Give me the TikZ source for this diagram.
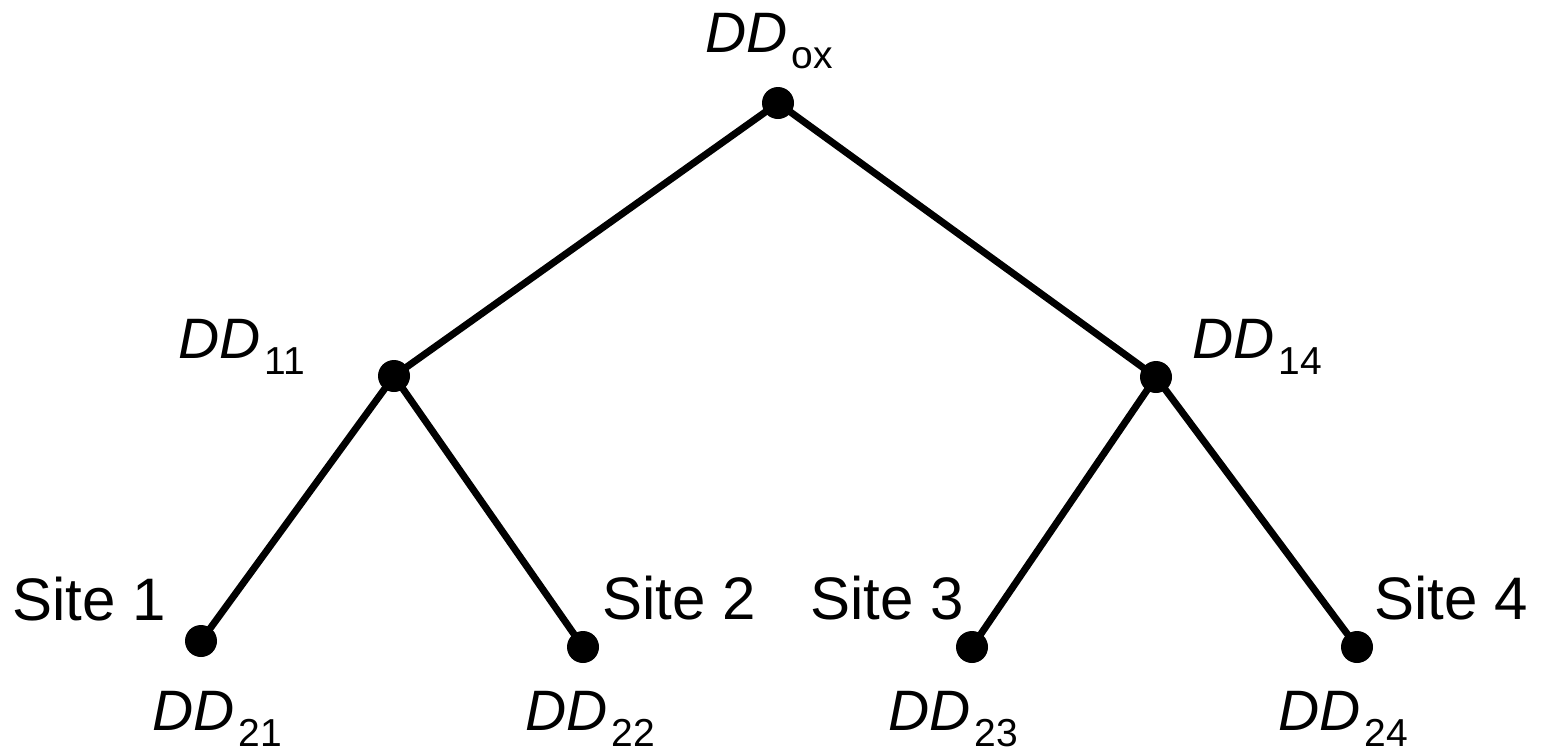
\documentclass[tikz,border=0pt]{standalone}
\usepackage{fontspec}
\setmainfont{Liberation Sans}
\newcommand{\ddlabel}[1]{{\fontsize{57}{57}\selectfont\itshape DD}\kern4pt\raisebox{-16pt}{\fontsize{39}{39}\selectfont #1}}
\tikzset{
  dot/.style={circle,fill=black,minimum size=32pt,inner sep=0pt},
  lbl/.style={anchor=base west,inner sep=0pt,font=\fontsize{60}{60}\selectfont},
  ddl/.style={anchor=base west,inner sep=0pt},
  edge/.style={line width=7pt}
}
\begin{document}
\begin{tikzpicture}[x=1pt,y=-1pt]
\useasboundingbox (0,0) rectangle (1552,748);
\node[dot] (r) at (778,103) {};
\node[dot] (a) at (394,376) {};
\node[dot] (b) at (1156,377) {};
\node[dot] (s1) at (201,641) {};
\node[dot] (s2) at (583,647) {};
\node[dot] (s3) at (972,647) {};
\node[dot] (s4) at (1357,647) {};
\draw[edge] (r.center) -- (a.center);
\draw[edge] (r.center) -- (b.center);
\draw[edge] (a.center) -- (s1.center);
\draw[edge] (a.center) -- (s2.center);
\draw[edge] (b.center) -- (s3.center);
\draw[edge] (b.center) -- (s4.center);
\node[ddl] (lr) at (705,52) {\ddlabel{ox}};
\node[ddl] (la) at (178,358) {\ddlabel{11}};
\node[ddl] (lb) at (1192,358) {\ddlabel{14}};
\node[ddl] (l1) at (152,730) {\ddlabel{21}};
\node[ddl] (l2) at (525,730) {\ddlabel{22}};
\node[ddl] (l3) at (888,730) {\ddlabel{23}};
\node[ddl] (l4) at (1278,730) {\ddlabel{24}};
\node[lbl] (t1) at (12,620) {Site 1};
\node[lbl] (t2) at (602,619) {Site 2};
\node[lbl] (t3) at (810,619) {Site 3};
\node[lbl] (t4) at (1374,619) {Site 4};
\end{tikzpicture}
\end{document}
